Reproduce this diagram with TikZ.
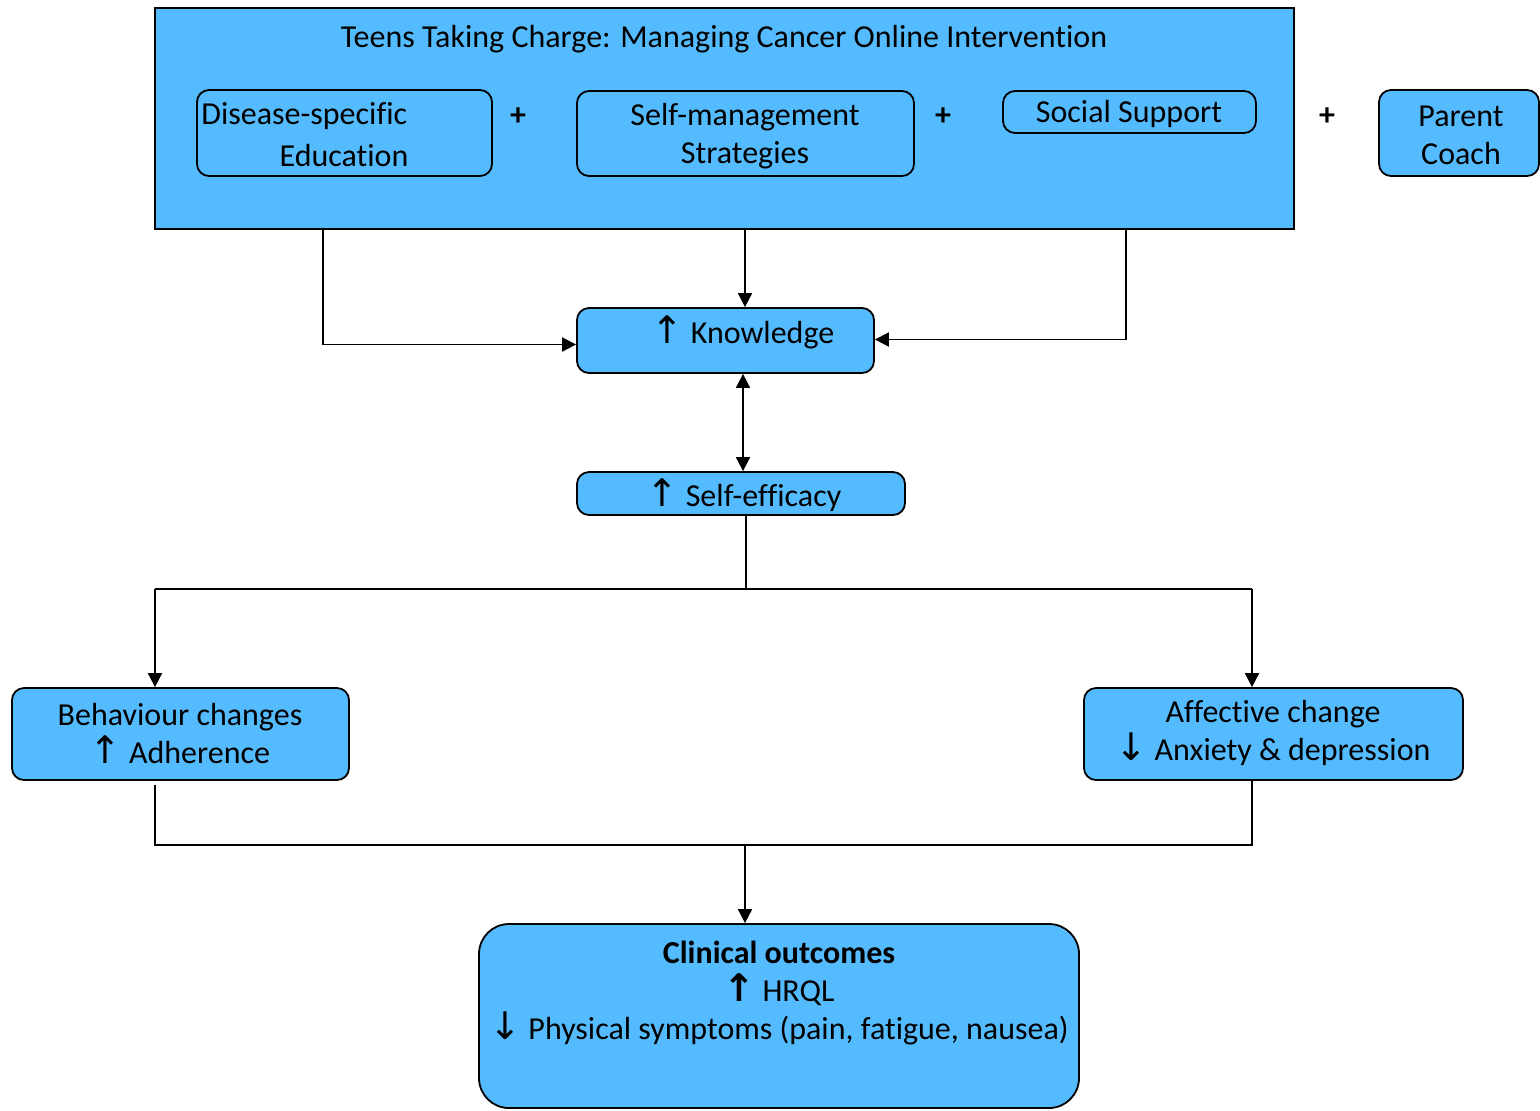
\documentclass[tikz,border=0pt]{standalone}
\usepackage{fontspec}
\setmainfont{Carlito}[Ligatures={NoCommon}]
\newfontfamily\arrowfont{DejaVu Sans}
\usetikzlibrary{arrows.meta}
\definecolor{boxblue}{RGB}{85,187,255}
\newcommand{\UpA}{{\arrowfont\fontsize{19}{19}\selectfont\char"2191}}
\newcommand{\DnA}{{\arrowfont\fontsize{19}{19}\selectfont\char"2193}}
\newcommand{\UpB}{{\arrowfont\bfseries\fontsize{19}{19}\selectfont\char"2191}}
\begin{document}
\begin{tikzpicture}[x=0.5pt,y=-0.5pt,
  font=\fontsize{16}{19}\selectfont,
  box/.style={draw=black,line width=0.9pt,fill=boxblue,rounded corners=6pt,inner sep=0pt,align=center},
  bigbox/.style={draw=black,line width=0.9pt,fill=boxblue,inner sep=0pt},
  txt/.style={inner sep=0pt,align=center},
  conn/.style={line width=0.9pt},
  arr/.style={conn,-{Triangle[length=7pt,width=7pt]}},
  darr/.style={conn,{Triangle[length=7pt,width=7pt]}-{Triangle[length=7pt,width=7pt]}}]
\useasboundingbox (0,0) rectangle (1540,1110);
% top container
\node[bigbox,minimum width=569.5pt,minimum height=110.5pt] (big) at (724.5,118.5) {};
\node[txt] (title) at (724,39) {Teens Taking Charge: Managing Cancer Online Intervention};
\node[box,minimum width=147.5pt,minimum height=43pt] (dis) at (344.5,133) {};
\node[txt,anchor=west] (dist1) at (201,116) {Disease-specific};
\node[txt] (dist2) at (344,155) {Education};
\node[txt,font=\fontsize{16}{19}\selectfont\bfseries] (p1) at (518,117) {+};
\node[box,minimum width=168.5pt,minimum height=42.5pt] (self) at (745.5,133.5) {};
\node[txt] (selft) at (745,136) {Self-management\\Strategies};
\node[txt,font=\fontsize{16}{19}\selectfont\bfseries] (p2) at (943,117) {+};
\node[box,minimum width=126.5pt,minimum height=21pt] (soc) at (1129.5,112) {};
\node[txt] (soct) at (1129,114) {Social Support};
\node[txt,font=\fontsize{16}{19}\selectfont\bfseries] (p3) at (1327,117) {+};
\node[box,minimum width=80pt,minimum height=43pt] (par) at (1459,133) {};
\node[txt] (part) at (1461,135) {Parent\\Coach};
% middle
\node[box,minimum width=148.5pt,minimum height=32.5pt] (know) at (725.5,340.5) {};
\node[txt] (knowt) at (743,332) {\UpA\ Knowledge};
\node[box,minimum width=164pt,minimum height=21.5pt] (eff) at (741,493.5) {};
\node[txt] (efft) at (744,495) {\UpA\ Self-efficacy};
\node[box,minimum width=168.5pt,minimum height=46pt] (beh) at (180.5,734) {};
\node[txt] (beht) at (180,733) {Behaviour changes\\\UpA\ Adherence};
\node[box,minimum width=189.5pt,minimum height=46pt] (aff) at (1273.5,734) {};
\node[txt] (afft) at (1273,733) {Affective change\\\DnA\ Anxiety \& depression};
\node[box,rounded corners=15pt,minimum width=300pt,minimum height=92pt] (clin) at (779,1016) {};
\node[txt] (clint) at (779,993) {\textbf{Clinical outcomes}\\\UpB\ HRQL\\\DnA\ Physical symptoms (pain, fatigue, nausea)};
% coordinates
\coordinate (b1) at (323,229);
\coordinate (b2) at (745,229);
\coordinate (b3) at (1126,229);
\coordinate (k1) at (743,0);
\coordinate (j1) at (746,589);
\coordinate (jl) at (155,589);
\coordinate (jr) at (1252,589);
\coordinate (ml) at (155,845);
\coordinate (mr) at (1252,845);
\coordinate (mm) at (745,845);
% connectors
\draw[arr] (b1) |- ([yshift=-2pt]know.west);
\draw[arr] (b2) -- (b2 |- know.north);
\draw[arr] (b3) |- ([yshift=0.5pt]know.east);
\draw[darr] (know.south -| k1) -- (eff.north -| k1);
\draw[conn] (eff.south -| j1) -- (j1);
\draw[conn] (jl) -- (jr);
\draw[arr] (jl) -- (jl |- beh.north);
\draw[arr] (jr) -- (jr |- aff.north);
\draw[conn] ([yshift=-2pt]ml |- beh.south) -- (ml) -- (mr) -- (mr |- aff.south);
\draw[arr] (mm) -- (mm |- clin.north);
\end{tikzpicture}
\end{document}
